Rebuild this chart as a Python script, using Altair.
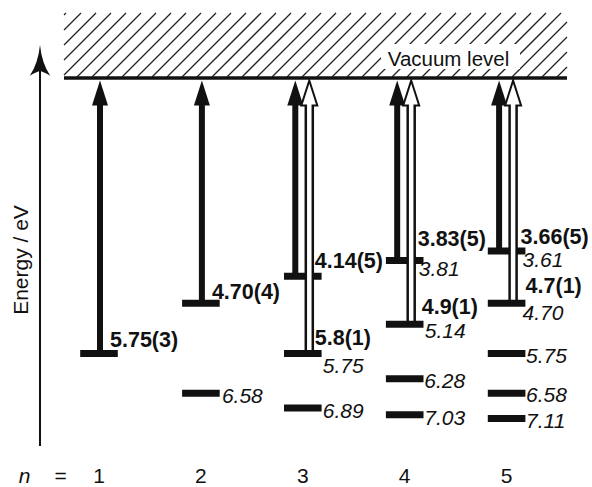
import altair as alt
import pandas as pd

# ---------------- values ----------------
columns = [1, 2, 3, 4, 5]

# energy levels (bars), binding energy in eV below the vacuum level
level_n = [1, 2, 2, 3, 3, 3, 4, 4, 4, 4, 5, 5, 5, 5, 5]
level_E = [5.75, 4.70, 6.58, 4.14, 5.75, 6.89, 3.81, 5.14, 6.28, 7.03,
           3.61, 4.70, 5.75, 6.58, 7.11]

# filled (solid) ionisation arrows: column and starting level
solid_n = [1, 2, 3, 4, 5]
solid_from = [5.75, 4.70, 4.14, 3.81, 3.61]
# open ionisation arrows
open_n = [3, 4, 5]
open_from = [5.75, 5.14, 4.70]

# experimental values (bold) and the level they annotate
bold_n = [1, 2, 3, 3, 4, 4, 5, 5]
bold_at = [5.75, 4.70, 4.14, 5.75, 3.81, 5.14, 3.61, 4.70]
bold_text = ["5.75(3)", "4.70(4)", "4.14(5)", "5.8(1)", "3.83(5)", "4.9(1)",
             "3.66(5)", "4.7(1)"]

# calculated values (italic)
calc_n = [2, 3, 3, 4, 4, 4, 4, 5, 5, 5, 5, 5]
calc_E = [6.58, 5.75, 6.89, 3.81, 5.14, 6.28, 7.03, 3.61, 4.70, 5.75, 6.58, 7.11]
calc_text = ["6.58", "5.75", "6.89", "3.81", "5.14", "6.28", "7.03",
             "3.61", "4.70", "5.75", "6.58", "7.11"]

bottom_text = ["1", "2", "3", "4", "5"]

# ---------------- layout (pixels) ----------------
W, H = 592, 487
PX0, PXSTEP = 99.0, 101.9   # pixel of column n=1, pixels per column
PY0, PYSTEP = 78.0, 47.9    # pixel of vacuum level, pixels per eV

# label nudges in pixels (placement only)
bold_dx = [11, 11, 12, 12, 13, 17, 14, 19]
bold_dy = [-6.5, -4, -8, -8.5, -14, -10, -7, -10]
calc_dx = [21, 20, 20, 14, 20, 19.5, 19.5, 16, 16, 19.5, 19.5, 19.5]
calc_dy = [10, 19.5, 10, 16, 14, 9, 10, 16, 17, 9.5, 9, 9.5]


def n_at(px):
    return 1 + (px - PX0) / PXSTEP


def e_at(py):
    return (py - PY0) / PYSTEP


def dn(dpx):
    return dpx / PXSTEP


def de(dpy):
    return dpy / PYSTEP


XS = alt.Scale(domain=[n_at(0), n_at(W)], range=[0, W], nice=False, zero=False)
YS = alt.Scale(domain=[e_at(0), e_at(H)], range=[0, H], nice=False, zero=False)
INK = "#111111"
FONT = "Liberation Sans"


def X(f="x"):
    return alt.X(f"{f}:Q", scale=XS, axis=None)


def Y(f="y"):
    return alt.Y(f"{f}:Q", scale=YS, axis=None)


# ---------------- hatched region above vacuum level ----------------
HX0, HX1, HY0, HY1 = 64, 567, 13, 77
segs = []
c = 79
while c < HX1 + HY1:
    y_lo = max(HY0, c - HX1)
    y_hi = min(HY1, c - HX0)
    if y_hi > y_lo:
        segs.append(dict(x=n_at(c - y_hi), y=e_at(y_hi),
                         x2=n_at(c - y_lo), y2=e_at(y_lo)))
    c += 15
hatch = alt.Chart(pd.DataFrame(segs)).mark_rule(
    color="#222222", strokeWidth=1.3).encode(x=X(), y=Y(), x2="x2:Q", y2="y2:Q")

vac_box = alt.Chart(pd.DataFrame([dict(x=n_at(381), x2=n_at(520),
                                       y=e_at(44), y2=e_at(69))])).mark_rect(
    color="white").encode(x=X(), x2="x2:Q", y=Y(), y2="y2:Q")

vac_text = alt.Chart(pd.DataFrame([dict(x=n_at(448.5), y=e_at(66), t="Vacuum level")])).mark_text(
    font=FONT, fontSize=20.5, color=INK, align="center", baseline="alphabetic").encode(
    x=X(), y=Y(), text="t:N")

vac_line = alt.Chart(pd.DataFrame([dict(x=n_at(64), x2=n_at(567), y=0.0)])).mark_rule(
    color=INK, strokeWidth=3.5).encode(x=X(), x2="x2:Q", y=Y())

# ---------------- energy axis arrow ----------------
axis_line = alt.Chart(pd.DataFrame([dict(x=n_at(40), y=e_at(446), y2=e_at(62))])).mark_rule(
    color=INK, strokeWidth=2).encode(x=X(), y=Y(), y2="y2:Q")
axis_head = alt.Chart(pd.DataFrame([dict(x=n_at(40), y=e_at(45))])).mark_point(
    shape="M0,0 Q0.12,1.2 0.68,2.05 Q0.2,1.75 0,1.75 Q-0.2,1.75 -0.68,2.05 Q-0.12,1.2 0,0 Z",
    size=900, filled=True, color=INK, opacity=1, strokeWidth=0).encode(x=X(), y=Y())
axis_title = alt.Chart(pd.DataFrame([dict(x=n_at(28), y=e_at(260), t="Energy / eV")])).mark_text(
    font=FONT, fontSize=21, color=INK, angle=270, align="center", baseline="alphabetic").encode(
    x=X(), y=Y(), text="t:N")

# ---------------- levels ----------------
lv = pd.DataFrame(dict(n=level_n, E=level_E))
lv["x"] = lv["n"] - dn(18.8)
lv["x2"] = lv["n"] + dn(18.8)
bars = alt.Chart(lv).mark_rule(color=INK, strokeWidth=7).encode(
    x=X(), x2="x2:Q", y=Y("E"))

TIP = e_at(80.5)
HEAD_BASE = e_at(80.5 + 25)
ARROW = "M0,0 L0.64,2 L-0.64,2 Z"

sd = pd.DataFrame(dict(n=solid_n, E=solid_from))
sd["x"] = [n + (dn(-7.5) if n in open_n else dn(1)) for n in sd["n"]]
sd["y2"] = HEAD_BASE + de(-3)
sd["tip"] = TIP
solid_shaft = alt.Chart(sd).mark_rule(color=INK, strokeWidth=6).encode(
    x=X(), y=Y("E"), y2="y2:Q")
solid_head = alt.Chart(sd).mark_point(shape=ARROW, size=625, filled=True, color=INK,
                                      opacity=1, strokeWidth=0).encode(x=X(), y=Y("tip"))

od = pd.DataFrame(dict(n=open_n, E=open_from))
od["x"] = od["n"] + dn(6.5)
od["y2"] = HEAD_BASE
od["yi"] = od["E"] - de(3.5)
od["yi2"] = HEAD_BASE - de(6)
od["tip"] = TIP
open_outer = alt.Chart(od).mark_rule(color=INK, strokeWidth=9.5).encode(
    x=X(), y=Y("E"), y2="y2:Q")
open_head = alt.Chart(od).mark_point(shape=ARROW, size=625, filled=True, fill="white",
                                     stroke=INK, strokeWidth=2, opacity=1).encode(
    x=X(), y=Y("tip"))
open_inner = alt.Chart(od).mark_rule(color="white", strokeWidth=4.5).encode(
    x=X(), y=Y("yi"), y2="yi2:Q")

# ---------------- labels ----------------
bl = pd.DataFrame(dict(n=bold_n, E=bold_at, t=bold_text))
bl["x"] = bl["n"] + [dn(v) for v in bold_dx]
bl["y"] = bl["E"] + [de(v) for v in bold_dy]
bold_labels = alt.Chart(bl).mark_text(font=FONT, fontSize=21.5, fontWeight="bold",
                                      color=INK, align="left", baseline="alphabetic").encode(
    x=X(), y=Y(), text="t:N")

cl = pd.DataFrame(dict(n=calc_n, E=calc_E, t=calc_text))
cl["x"] = cl["n"] + [dn(v) for v in calc_dx]
cl["y"] = cl["E"] + [de(v) for v in calc_dy]
calc_labels = alt.Chart(cl).mark_text(font=FONT, fontSize=21, fontStyle="italic",
                                      color=INK, align="left", baseline="alphabetic").encode(
    x=X(), y=Y(), text="t:N")

BOTTOM_Y = e_at(483)
bt = pd.DataFrame(dict(x=columns, t=bottom_text))
bt["y"] = BOTTOM_Y
bottom = alt.Chart(bt).mark_text(font=FONT, fontSize=21, color=INK, align="center",
                                 baseline="alphabetic").encode(x=X(), y=Y(), text="t:N")
n_lab = alt.Chart(pd.DataFrame([dict(x=n_at(24.5), y=BOTTOM_Y, t="n")])).mark_text(
    font=FONT, fontSize=21, fontStyle="italic", color=INK, align="center",
    baseline="alphabetic").encode(x=X(), y=Y(), text="t:N")
eq_lab = alt.Chart(pd.DataFrame([dict(x=n_at(60.5), y=BOTTOM_Y, t="=")])).mark_text(
    font=FONT, fontSize=21, color=INK, align="center",
    baseline="alphabetic").encode(x=X(), y=Y(), text="t:N")

chart = alt.layer(
    hatch, vac_box, vac_text, vac_line,
    axis_line, axis_head, axis_title,
    bars,
    solid_shaft, solid_head,
    open_outer, open_head, open_inner,
    bold_labels, calc_labels, bottom, n_lab, eq_lab,
).properties(
    width=W, height=H, padding=0, autosize=alt.AutoSizeParams(type="none"),
    background="white",
).configure_view(stroke=None)

chart.save("out.html", embed_options={"renderer": "svg", "actions": False})
